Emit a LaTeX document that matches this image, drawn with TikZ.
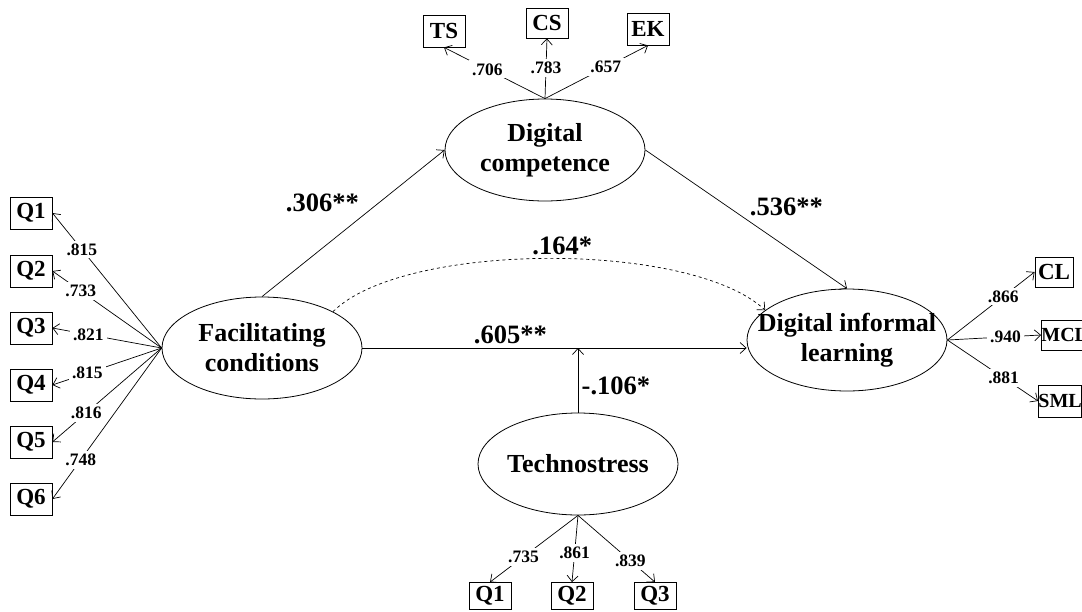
\documentclass[tikz,border=0pt]{standalone}
\usepackage{fontspec}
\setmainfont{Liberation Serif}
\usetikzlibrary{arrows.meta, shapes.geometric}

\begin{document}
\begin{tikzpicture}[
    x=1pt, y=-1pt,
    latent/.style = {
      draw, ellipse, line width=0.8pt,
      minimum width=200pt, minimum height=102pt,
      inner sep=0pt, align=center,
      font=\fontsize{26}{30}\selectfont\bfseries
    },
    item/.style = {
      draw, line width=0.8pt,
      minimum width=42pt, minimum height=32pt, inner sep=2pt,
      font=\fontsize{23}{25}\selectfont\bfseries
    },
    link/.style    = {-{Straight Barb[length=6pt,width=11pt]}, line width=0.7pt},
    loading/.style = {fill=white, inner sep=3pt, font=\fontsize{17.5}{19}\selectfont\bfseries},
    coef/.style    = {font=\fontsize{26.5}{28}\selectfont\bfseries}
  ]

    \clip (0,0) rectangle (1082,611);

    % latent variables
    \node[latent] (fc)   at (262,348) {Facilitating\\conditions};
    \node[latent] (dc)   at (545,150) {Digital\\competence};
    \node[latent, inner xsep=-22pt] (dil) at (847,340) {Digital informal\\learning};
    \node[latent, inner xsep=-4pt] (tech) at (578,464) {Technostress};

    % indicators
    \node[item] (q1) at (31,213) {Q1};
    \node[item] (q2) at (31,271) {Q2};
    \node[item] (q3) at (31,328) {Q3};
    \node[item] (q4) at (31,385) {Q4};
    \node[item] (q5) at (31,442) {Q5};
    \node[item] (q6) at (31,499) {Q6};

    \node[item] (ts) at (444,31) {TS};
    \node[item, minimum height=30pt] (cs) at (547,23) {CS};
    \node[item] (ek) at (648,29) {EK};

    \node[item, minimum height=27pt] (tq1) at (490,596) {Q1};
    \node[item, minimum height=27pt] (tq2) at (572,596) {Q2};
    \node[item, minimum height=27pt] (tq3) at (655,596) {Q3};

    \node[item, minimum width=38pt, minimum height=30pt] (cl) at (1054,272) {CL};
    \node[item, anchor=west, minimum height=30pt, inner xsep=0pt,
          font=\fontsize{20}{22}\selectfont\bfseries] (mcl) at (1041,335) {MCL};
    \node[item, anchor=west, inner xsep=0pt,
          font=\fontsize{20}{22}\selectfont\bfseries] (sml) at (1038,401) {SML};

    % loadings
    \draw[link] (fc.west) -- node[loading, pos=0.73] {.815} (q1.east);
    \draw[link] (fc.west) -- node[loading, pos=0.74] {.733} (q2.east);
    \draw[link] (fc.west) -- node[loading, pos=0.67] {.821} (q3.east);
    \draw[link] (fc.west) -- node[loading, pos=0.68] {.815} (q4.east);
    \draw[link] (fc.west) -- node[loading, pos=0.69] {.816} (q5.east);
    \draw[link] (fc.west) -- node[loading, pos=0.74] {.748} (q6.east);

    \draw[link] (dc.north) -- node[loading, pos=0.57] {.706} (ts.south);
    \draw[link] (dc.north) -- node[loading, pos=0.51] {.783} (cs.south);
    \draw[link] (dc.north) -- node[loading, pos=0.59] {.657} (ek.south);

    \draw[link] (tech.south) -- node[loading, pos=0.62] {.735} (tq1.north);
    \draw[link] (tech.south) -- node[loading, pos=0.56] {.861} (tq2.north);
    \draw[link] (tech.south) -- node[loading, pos=0.68] {.839} (tq3.north);

    \draw[link] (dil.east) -- node[loading, pos=0.64] {.866} (cl.west);
    \draw[link] (dil.east) -- node[loading, pos=0.62] {.940} (mcl.west);
    \draw[link] (dil.east) -- node[loading, pos=0.62] {.881} (sml.west);

    % structural paths
    \draw[link] (fc.north) --
      node[coef, pos=0.55, above left] {.306**}
      (dc.west);

    \draw[link] (dc.east) --
      node[coef, pos=0.5, above right] {.536**}
      (dil.north);

    \draw[link, dashed] (fc.north east)
      .. controls +(70,-70) and +(-75,-70) ..
      node[coef, pos=0.5, above, xshift=15pt] {.164*}
      (dil.160);

    \draw[link] (fc.east) --
      node[coef, pos=0.385, above] {.605**}
      (fc.east -| dil.west);

    \draw[link] (tech.north) --
      node[coef, pos=0.42, right] {-.106*}
      (tech.north |- fc.east);

  \end{tikzpicture}
\end{document}
